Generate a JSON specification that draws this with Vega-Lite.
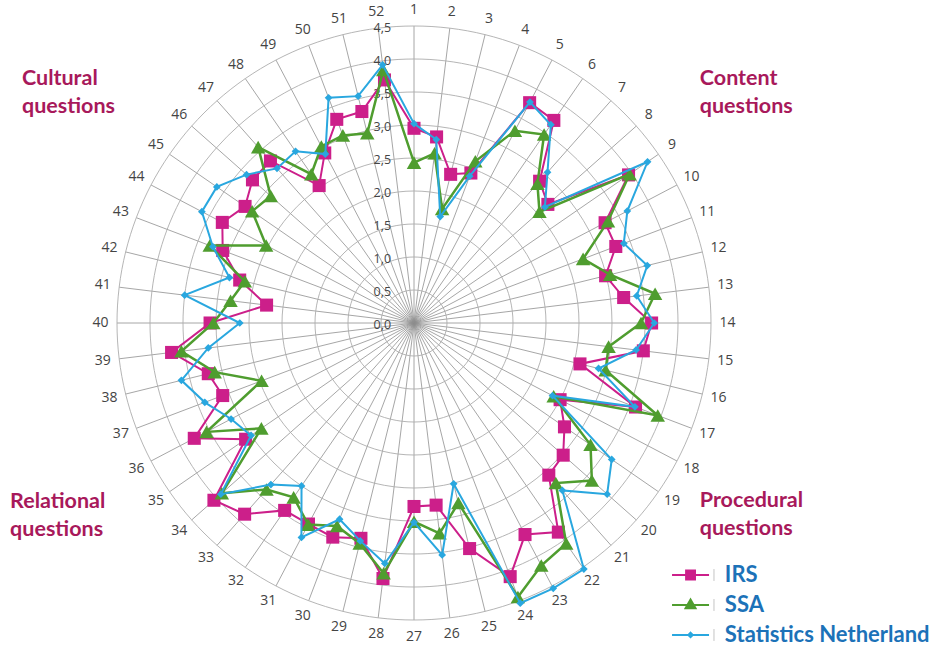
{
  "$schema": "https://vega.github.io/schema/vega-lite/v6.json",
  "width": 594,
  "height": 594,
  "autosize": {"type": "none"},
  "padding": {"left": 117, "top": 26, "right": 241, "bottom": 29},
  "background": "white",
  "config": {"view": {"stroke": null}, "font": "Open Sans"},
  "datasets": {
    "scores": [
      {"q": 1, "IRS": 2.95, "SSA": 2.43, "Statistics Netherland": 3.02},
      {"q": 2, "IRS": 2.84, "SSA": 2.59, "Statistics Netherland": 2.80},
      {"q": 3, "IRS": 2.32, "SSA": 1.78, "Statistics Netherland": 1.66},
      {"q": 4, "IRS": 2.43, "SSA": 2.62, "Statistics Netherland": 2.38},
      {"q": 5, "IRS": 3.77, "SSA": 3.29, "Statistics Netherland": 3.78},
      {"q": 6, "IRS": 3.73, "SSA": 3.47, "Statistics Netherland": 3.65},
      {"q": 7, "IRS": 2.87, "SSA": 2.82, "Statistics Netherland": 3.05},
      {"q": 8, "IRS": 2.71, "SSA": 2.54, "Statistics Netherland": 2.65},
      {"q": 9, "IRS": 3.95, "SSA": 3.97, "Statistics Netherland": 4.30},
      {"q": 10, "IRS": 3.27, "SSA": 3.32, "Statistics Netherland": 3.65},
      {"q": 11, "IRS": 3.27, "SSA": 2.74, "Statistics Netherland": 3.40},
      {"q": 12, "IRS": 2.99, "SSA": 3.06, "Statistics Netherland": 3.64},
      {"q": 13, "IRS": 3.20, "SSA": 3.68, "Statistics Netherland": 3.40},
      {"q": 14, "IRS": 3.60, "SSA": 3.44, "Statistics Netherland": 3.64},
      {"q": 15, "IRS": 3.50, "SSA": 2.97, "Statistics Netherland": 3.39},
      {"q": 16, "IRS": 2.59, "SSA": 2.99, "Statistics Netherland": 2.88},
      {"q": 17, "IRS": 3.59, "SSA": 3.95, "Statistics Netherland": 3.58},
      {"q": 18, "IRS": 2.50, "SSA": 2.39, "Statistics Netherland": 2.37},
      {"q": 19, "IRS": 2.77, "SSA": 3.25, "Statistics Netherland": 3.64},
      {"q": 20, "IRS": 3.02, "SSA": 3.60, "Statistics Netherland": 3.91},
      {"q": 21, "IRS": 3.08, "SSA": 3.24, "Statistics Netherland": 3.39},
      {"q": 22, "IRS": 3.85, "SSA": 4.06, "Statistics Netherland": 4.53},
      {"q": 23, "IRS": 3.62, "SSA": 4.15, "Statistics Netherland": 4.54},
      {"q": 24, "IRS": 4.11, "SSA": 4.44, "Statistics Netherland": 4.54},
      {"q": 25, "IRS": 3.52, "SSA": 2.81, "Statistics Netherland": 2.51},
      {"q": 26, "IRS": 2.78, "SSA": 3.21, "Statistics Netherland": 3.54},
      {"q": 27, "IRS": 2.78, "SSA": 3.01, "Statistics Netherland": 3.02},
      {"q": 28, "IRS": 3.90, "SSA": 3.82, "Statistics Netherland": 3.67},
      {"q": 29, "IRS": 3.36, "SSA": 3.44, "Statistics Netherland": 3.40},
      {"q": 30, "IRS": 3.47, "SSA": 3.29, "Statistics Netherland": 3.18},
      {"q": 31, "IRS": 3.44, "SSA": 3.45, "Statistics Netherland": 3.67},
      {"q": 32, "IRS": 3.45, "SSA": 3.21, "Statistics Netherland": 3.00},
      {"q": 33, "IRS": 3.87, "SSA": 3.37, "Statistics Netherland": 3.27},
      {"q": 34, "IRS": 4.05, "SSA": 3.89, "Statistics Netherland": 3.91},
      {"q": 35, "IRS": 3.10, "SSA": 2.81, "Statistics Netherland": 3.00},
      {"q": 36, "IRS": 3.76, "SSA": 3.55, "Statistics Netherland": 3.13},
      {"q": 37, "IRS": 3.10, "SSA": 2.47, "Statistics Netherland": 3.39},
      {"q": 38, "IRS": 3.21, "SSA": 3.11, "Statistics Netherland": 3.63},
      {"q": 39, "IRS": 3.70, "SSA": 3.55, "Statistics Netherland": 3.14},
      {"q": 40, "IRS": 3.09, "SSA": 3.04, "Statistics Netherland": 2.64},
      {"q": 41, "IRS": 2.25, "SSA": 2.80, "Statistics Netherland": 3.50},
      {"q": 42, "IRS": 2.72, "SSA": 2.64, "Statistics Netherland": 2.88},
      {"q": 43, "IRS": 3.10, "SSA": 3.31, "Statistics Netherland": 3.26},
      {"q": 44, "IRS": 3.28, "SSA": 2.53, "Statistics Netherland": 3.63},
      {"q": 45, "IRS": 3.11, "SSA": 2.98, "Statistics Netherland": 3.63},
      {"q": 46, "IRS": 3.27, "SSA": 2.90, "Statistics Netherland": 3.39},
      {"q": 47, "IRS": 3.28, "SSA": 3.56, "Statistics Netherland": 3.13},
      {"q": 48, "IRS": 2.53, "SSA": 2.74, "Statistics Netherland": 3.16},
      {"q": 49, "IRS": 2.91, "SSA": 3.02, "Statistics Netherland": 2.89},
      {"q": 50, "IRS": 3.30, "SSA": 3.04, "Statistics Netherland": 3.65},
      {"q": 51, "IRS": 3.30, "SSA": 2.96, "Statistics Netherland": 3.54},
      {"q": 52, "IRS": 3.71, "SSA": 3.86, "Statistics Netherland": 3.94}
    ],
    "ticks": [
      {"tick": 0}, {"tick": 0.5}, {"tick": 1}, {"tick": 1.5}, {"tick": 2},
      {"tick": 2.5}, {"tick": 3}, {"tick": 3.5}, {"tick": 4}, {"tick": 4.5}
    ],
    "groups": [
      {"label": "Cultural questions", "quadrant": "tl"},
      {"label": "Content questions", "quadrant": "tr"},
      {"label": "Relational questions", "quadrant": "bl"},
      {"label": "Procedural questions", "quadrant": "br"}
    ]
  },
  "data": {"name": "scores"},
  "layer": [
    {
      "transform": [
        {"calculate": "(datum.q-1)*2*PI/52", "as": "a"},
        {"calculate": "4.5*sin(datum.a)", "as": "sx"},
        {"calculate": "4.5*cos(datum.a)", "as": "sy"}
      ],
      "mark": {"type": "rule", "stroke": "#8f8f8f", "strokeWidth": 0.8},
      "encoding": {
        "x": {"field": "sx", "type": "quantitative", "scale": {"domain": [-4.5, 4.5], "nice": false, "zero": false}, "axis": null},
        "y": {"field": "sy", "type": "quantitative", "scale": {"domain": [-4.5, 4.5], "nice": false, "zero": false}, "axis": null},
        "x2": {"datum": 0},
        "y2": {"datum": 0}
      }
    },
    {
      "transform": [
        {"calculate": "(datum.q-1)*2*PI/52", "as": "a"},
        {"calculate": "[0.5,1,1.5,2,2.5,3,3.5,4,4.5]", "as": "ring"},
        {"flatten": ["ring"]},
        {"calculate": "datum.ring*sin(datum.a)", "as": "rx"},
        {"calculate": "datum.ring*cos(datum.a)", "as": "ry"}
      ],
      "mark": {"type": "line", "interpolate": "cardinal-closed", "stroke": "#adadad", "strokeWidth": 0.9},
      "encoding": {
        "x": {"field": "rx", "type": "quantitative", "scale": {"domain": [-4.5, 4.5], "nice": false, "zero": false}, "axis": null},
        "y": {"field": "ry", "type": "quantitative", "scale": {"domain": [-4.5, 4.5], "nice": false, "zero": false}, "axis": null},
        "detail": {"field": "ring", "type": "nominal"},
        "order": {"field": "q", "type": "quantitative"}
      }
    },
    {
      "data": {"name": "ticks"},
      "transform": [
        {"calculate": "replace(format(datum.tick, '.1f'), '.', ',')", "as": "lab"}
      ],
      "mark": {"type": "text", "fontSize": 12.5, "fill": "#444444", "align": "center", "baseline": "middle", "dy": 2},
      "encoding": {
        "x": {"datum": -0.48, "type": "quantitative", "scale": {"domain": [-4.5, 4.5], "nice": false, "zero": false}, "axis": null},
        "y": {"field": "tick", "type": "quantitative", "scale": {"domain": [-4.5, 4.5], "nice": false, "zero": false}, "axis": null},
        "text": {"field": "lab", "type": "nominal"}
      }
    },
    {
      "transform": [
        {"calculate": "(datum.q-1)*2*PI/52", "as": "a"},
        {"calculate": "4.75*sin(datum.a)", "as": "lx"},
        {"calculate": "4.75*cos(datum.a)", "as": "ly"}
      ],
      "mark": {"type": "text", "fontSize": 14, "fill": "#444444", "align": "center", "baseline": "middle"},
      "encoding": {
        "x": {"field": "lx", "type": "quantitative", "scale": {"domain": [-4.5, 4.5], "nice": false, "zero": false}, "axis": null},
        "y": {"field": "ly", "type": "quantitative", "scale": {"domain": [-4.5, 4.5], "nice": false, "zero": false}, "axis": null},
        "text": {"field": "q", "type": "nominal"}
      }
    },
    {
      "transform": [
        {"fold": ["IRS", "SSA", "Statistics Netherland"], "as": ["series", "value"]},
        {"filter": "datum.series == 'IRS'"},
        {"calculate": "(datum.q-1)*2*PI/52", "as": "a"},
        {"calculate": "datum.value*sin(datum.a)", "as": "px"},
        {"calculate": "datum.value*cos(datum.a)", "as": "py"}
      ],
      "layer": [
        {
          "mark": {"type": "line", "interpolate": "linear-closed", "strokeWidth": 2},
          "encoding": {
            "x": {"field": "px", "type": "quantitative", "scale": {"domain": [-4.5, 4.5], "nice": false, "zero": false}, "axis": null},
            "y": {"field": "py", "type": "quantitative", "scale": {"domain": [-4.5, 4.5], "nice": false, "zero": false}, "axis": null},
            "color": {"field": "series", "type": "nominal", "scale": {"domain": ["IRS", "SSA", "Statistics Netherland"], "range": ["#cc1f8a", "#4f9d2f", "#29a7df"]}, "legend": null},
            "order": {"field": "q", "type": "quantitative"}
          }
        },
        {
          "mark": {"type": "point", "shape": "square", "filled": true, "size": 170, "opacity": 1},
          "encoding": {
            "x": {"field": "px", "type": "quantitative", "scale": {"domain": [-4.5, 4.5], "nice": false, "zero": false}, "axis": null},
            "y": {"field": "py", "type": "quantitative", "scale": {"domain": [-4.5, 4.5], "nice": false, "zero": false}, "axis": null},
            "color": {"field": "series", "type": "nominal", "legend": null}
          }
        }
      ]
    },
    {
      "transform": [
        {"fold": ["IRS", "SSA", "Statistics Netherland"], "as": ["series", "value"]},
        {"filter": "datum.series == 'SSA'"},
        {"calculate": "(datum.q-1)*2*PI/52", "as": "a"},
        {"calculate": "datum.value*sin(datum.a)", "as": "px"},
        {"calculate": "datum.value*cos(datum.a)", "as": "py"}
      ],
      "layer": [
        {
          "mark": {"type": "line", "interpolate": "linear-closed", "strokeWidth": 2.5},
          "encoding": {
            "x": {"field": "px", "type": "quantitative", "scale": {"domain": [-4.5, 4.5], "nice": false, "zero": false}, "axis": null},
            "y": {"field": "py", "type": "quantitative", "scale": {"domain": [-4.5, 4.5], "nice": false, "zero": false}, "axis": null},
            "color": {"field": "series", "type": "nominal", "legend": null},
            "order": {"field": "q", "type": "quantitative"}
          }
        },
        {
          "mark": {"type": "point", "shape": "triangle-up", "filled": true, "size": 210, "opacity": 1},
          "encoding": {
            "x": {"field": "px", "type": "quantitative", "scale": {"domain": [-4.5, 4.5], "nice": false, "zero": false}, "axis": null},
            "y": {"field": "py", "type": "quantitative", "scale": {"domain": [-4.5, 4.5], "nice": false, "zero": false}, "axis": null},
            "color": {"field": "series", "type": "nominal", "legend": null}
          }
        }
      ]
    },
    {
      "transform": [
        {"fold": ["IRS", "SSA", "Statistics Netherland"], "as": ["series", "value"]},
        {"filter": "datum.series == 'Statistics Netherland'"},
        {"calculate": "(datum.q-1)*2*PI/52", "as": "a"},
        {"calculate": "datum.value*sin(datum.a)", "as": "px"},
        {"calculate": "datum.value*cos(datum.a)", "as": "py"}
      ],
      "layer": [
        {
          "mark": {"type": "line", "interpolate": "linear-closed", "strokeWidth": 2},
          "encoding": {
            "x": {"field": "px", "type": "quantitative", "scale": {"domain": [-4.5, 4.5], "nice": false, "zero": false}, "axis": null},
            "y": {"field": "py", "type": "quantitative", "scale": {"domain": [-4.5, 4.5], "nice": false, "zero": false}, "axis": null},
            "color": {"field": "series", "type": "nominal", "legend": null},
            "order": {"field": "q", "type": "quantitative"}
          }
        },
        {
          "mark": {"type": "point", "shape": "diamond", "filled": true, "size": 60, "opacity": 1},
          "encoding": {
            "x": {"field": "px", "type": "quantitative", "scale": {"domain": [-4.5, 4.5], "nice": false, "zero": false}, "axis": null},
            "y": {"field": "py", "type": "quantitative", "scale": {"domain": [-4.5, 4.5], "nice": false, "zero": false}, "axis": null},
            "color": {"field": "series", "type": "nominal", "legend": null}
          }
        }
      ]
    },
    {
      "transform": [
        {"filter": "datum.q == 1"},
        {"fold": ["IRS", "SSA", "Statistics Netherland"], "as": ["series", "value"]},
        {"calculate": "indexof(['IRS','SSA','Statistics Netherland'], datum.series)", "as": "k"},
        {"calculate": "-3.818 - 0.4545*datum.k", "as": "ky"},
        {"calculate": "datum.ky + 0.09", "as": "kt"},
        {"calculate": "datum.ky - 0.09", "as": "kb"}
      ],
      "layer": [
        {
          "mark": {"type": "point", "filled": true, "opacity": 1, "size": 1369, "strokeWidth": 2},
          "encoding": {
            "x": {"datum": 4.19, "type": "quantitative", "scale": {"domain": [-4.5, 4.5], "nice": false, "zero": false}, "axis": null},
            "y": {"field": "ky", "type": "quantitative", "scale": {"domain": [-4.5, 4.5], "nice": false, "zero": false}, "axis": null},
            "color": {"field": "series", "type": "nominal", "legend": null},
            "stroke": {"field": "series", "type": "nominal", "scale": {"domain": ["IRS", "SSA", "Statistics Netherland"], "range": ["#cc1f8a", "#4f9d2f", "#29a7df"]}, "legend": null},
            "shape": {
              "field": "series",
              "type": "nominal",
              "scale": {
                "domain": ["IRS", "SSA", "Statistics Netherland"],
                "range": [
                  "M-1,0H1M-0.24,-0.24H0.24V0.24H-0.24Z",
                  "M-1,0H1M0,-0.3L0.27,0.18H-0.27Z",
                  "M-1,0H1M0,-0.12L0.12,0L0,0.12L-0.12,0Z"
                ]
              },
              "legend": null
            }
          }
        },
        {
          "mark": {"type": "rule", "stroke": "#c4c4c4", "strokeWidth": 1},
          "encoding": {
            "x": {"datum": 4.545, "type": "quantitative", "scale": {"domain": [-4.5, 4.5], "nice": false, "zero": false}, "axis": null},
            "y": {"field": "kb", "type": "quantitative", "scale": {"domain": [-4.5, 4.5], "nice": false, "zero": false}, "axis": null},
            "y2": {"field": "kt"}
          }
        },
        {
          "mark": {"type": "text", "font": "Lato", "fontWeight": "bold", "fontSize": 22, "fill": "#1c72b8", "align": "left", "baseline": "middle"},
          "encoding": {
            "x": {"datum": 4.71, "type": "quantitative", "scale": {"domain": [-4.5, 4.5], "nice": false, "zero": false}, "axis": null},
            "y": {"field": "ky", "type": "quantitative", "scale": {"domain": [-4.5, 4.5], "nice": false, "zero": false}, "axis": null},
            "text": {"field": "series", "type": "nominal"}
          }
        }
      ]
    },
    {
      "data": {"name": "groups"},
      "transform": [{"filter": "datum.quadrant == 'tl'"}],
      "mark": {"type": "text", "font": "Lato", "fontWeight": "bold", "fontSize": 21.5, "fill": "#a8195b", "align": "left", "baseline": "alphabetic", "lineBreak": " ", "lineHeight": 28},
      "encoding": {
        "x": {"datum": -5.94, "type": "quantitative", "scale": {"domain": [-4.5, 4.5], "nice": false, "zero": false}, "axis": null},
        "y": {"datum": 3.6, "type": "quantitative", "scale": {"domain": [-4.5, 4.5], "nice": false, "zero": false}, "axis": null},
        "text": {"field": "label", "type": "nominal"}
      }
    },
    {
      "data": {"name": "groups"},
      "transform": [{"filter": "datum.quadrant == 'tr'"}],
      "mark": {"type": "text", "font": "Lato", "fontWeight": "bold", "fontSize": 21.5, "fill": "#a8195b", "align": "left", "baseline": "alphabetic", "lineBreak": " ", "lineHeight": 28},
      "encoding": {
        "x": {"datum": 4.33, "type": "quantitative", "scale": {"domain": [-4.5, 4.5], "nice": false, "zero": false}, "axis": null},
        "y": {"datum": 3.6, "type": "quantitative", "scale": {"domain": [-4.5, 4.5], "nice": false, "zero": false}, "axis": null},
        "text": {"field": "label", "type": "nominal"}
      }
    },
    {
      "data": {"name": "groups"},
      "transform": [{"filter": "datum.quadrant == 'bl'"}],
      "mark": {"type": "text", "font": "Lato", "fontWeight": "bold", "fontSize": 21.5, "fill": "#a8195b", "align": "left", "baseline": "alphabetic", "lineBreak": " ", "lineHeight": 28},
      "encoding": {
        "x": {"datum": -6.12, "type": "quantitative", "scale": {"domain": [-4.5, 4.5], "nice": false, "zero": false}, "axis": null},
        "y": {"datum": -2.8, "type": "quantitative", "scale": {"domain": [-4.5, 4.5], "nice": false, "zero": false}, "axis": null},
        "text": {"field": "label", "type": "nominal"}
      }
    },
    {
      "data": {"name": "groups"},
      "transform": [{"filter": "datum.quadrant == 'br'"}],
      "mark": {"type": "text", "font": "Lato", "fontWeight": "bold", "fontSize": 21.5, "fill": "#a8195b", "align": "left", "baseline": "alphabetic", "lineBreak": " ", "lineHeight": 28},
      "encoding": {
        "x": {"datum": 4.33, "type": "quantitative", "scale": {"domain": [-4.5, 4.5], "nice": false, "zero": false}, "axis": null},
        "y": {"datum": -2.79, "type": "quantitative", "scale": {"domain": [-4.5, 4.5], "nice": false, "zero": false}, "axis": null},
        "text": {"field": "label", "type": "nominal"}
      }
    }
  ]
}
